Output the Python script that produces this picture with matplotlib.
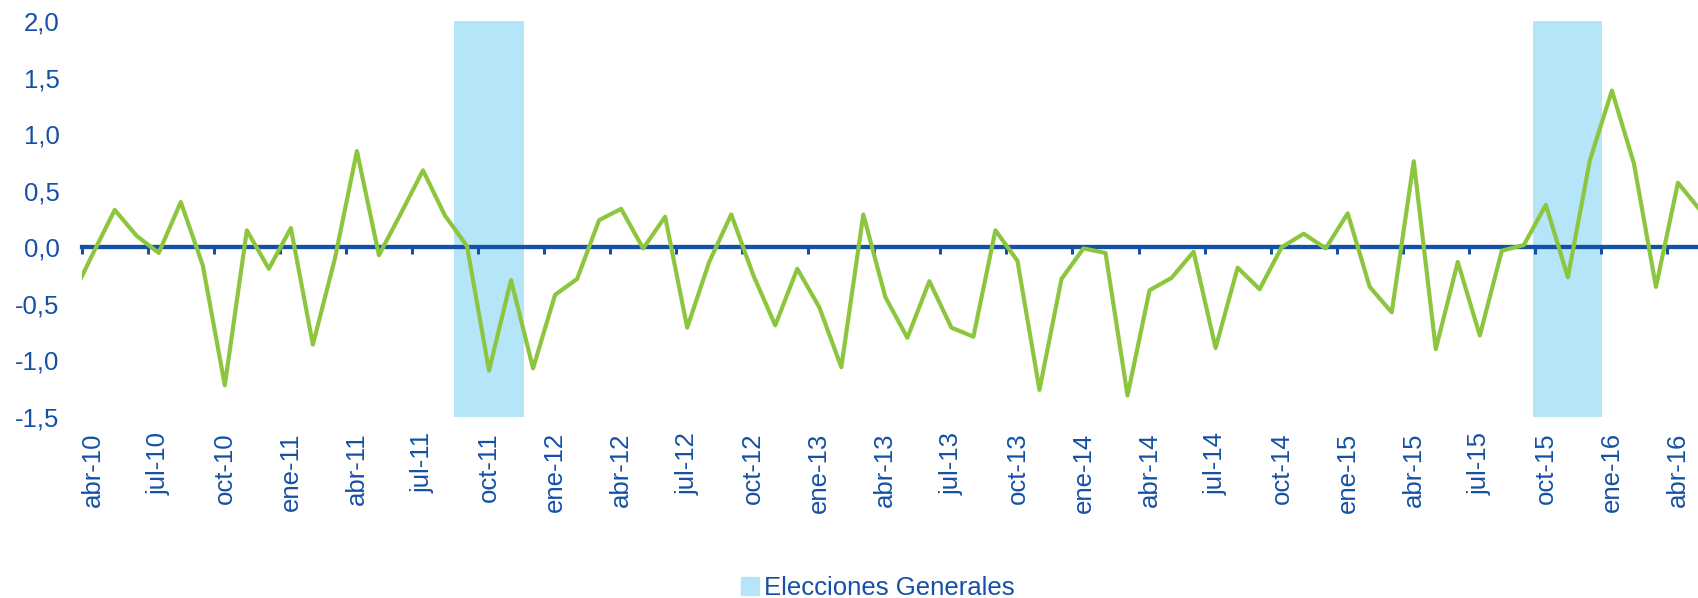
import matplotlib.pyplot as plt
from matplotlib.patches import Patch
import numpy as np

plt.rcParams['font.family'] = ['Liberation Sans', 'DejaVu Sans']

# Meses (mar-10 a may-16); el gráfico original está recortado en los extremos
nombres_mes = ["ene", "feb", "mar", "abr", "may", "jun", "jul", "ago", "sep", "oct", "nov", "dic"]
meses = []
for anio in range(10, 17):
    for m in nombres_mes:
        meses.append(f"{m}-{anio}")
meses = meses[meses.index("mar-10"):meses.index("may-16") + 1]

valores = [-0.46, -0.06, 0.33, 0.10, -0.05, 0.40, -0.16, -1.22, 0.15, -0.19,
           0.17, -0.86, -0.10, 0.85, -0.07, 0.30, 0.68, 0.28, 0.01, -1.09,
           -0.29, -1.07, -0.42, -0.28, 0.24, 0.34, -0.01, 0.27, -0.71, -0.13,
           0.29, -0.245, -0.69, -0.19, -0.53, -1.06, 0.29, -0.44, -0.80, -0.30,
           -0.71, -0.79, 0.15, -0.12, -1.26, -0.28, -0.01, -0.05, -1.31, -0.38,
           -0.27, -0.04, -0.89, -0.18, -0.37, 0.0, 0.12, -0.01, 0.30, -0.35,
           -0.575, 0.76, -0.90, -0.13, -0.78, -0.03, 0.02, 0.375, -0.265, 0.77,
           1.385, 0.74, -0.35, 0.57, 0.33]

etiquetas_x = ["abr-10", "jul-10", "oct-10", "ene-11", "abr-11", "jul-11", "oct-11",
               "ene-12", "abr-12", "jul-12", "oct-12", "ene-13", "abr-13", "jul-13",
               "oct-13", "ene-14", "abr-14", "jul-14", "oct-14", "ene-15", "abr-15",
               "jul-15", "oct-15", "ene-16", "abr-16"]

# periodos electorales (primer y último mes sombreado)
elecciones = [("sep-11", "nov-11"), ("oct-15", "dic-15")]

azul = "#1450A5"
verde = "#8CC63F"
celeste = "#B5E5F8"
fs = 18.5

x = np.arange(len(meses)) - 1  # abr-10 = 0

fig = plt.figure(figsize=(16.98, 5.98), dpi=100)
ax = fig.add_axes([81.7 / 1698, 1 - 417 / 598, 1 - 81.7 / 1698, (417 - 21) / 598])

for ini, fin in elecciones:
    i0 = meses.index(ini) - 1
    i1 = meses.index(fin) - 1
    ax.axvspan(i0 - 0.57, i1 + 0.57, color=celeste, lw=0, zorder=1)

ax.plot(x, valores, color=verde, lw=3.0, zorder=3)

ax.set_xlim(-0.5, 72.91)
ax.set_ylim(-1.5, 2.0)

# eje horizontal en el cero con marcas cada trimestre
for s in ["top", "right", "left"]:
    ax.spines[s].set_visible(False)
ax.spines["bottom"].set_position(("data", 0))
ax.spines["bottom"].set_color(azul)
ax.spines["bottom"].set_linewidth(3.1)
ax.set_xticks(np.arange(-0.5, 73, 3))
ax.tick_params(axis="x", direction="out", length=5, width=2.2, color=azul, labelbottom=False)

yt = np.arange(-1.5, 2.01, 0.5)
ax.set_yticks(yt)
ax.set_yticklabels([f"{v:.1f}".replace(".", ",") for v in yt])
ax.tick_params(axis="y", length=0, pad=16, labelsize=fs, labelcolor=azul)

pos_etiq = [meses.index(e) - 1 for e in etiquetas_x]
sec = ax.secondary_xaxis(0.0)
sec.set_xticks(pos_etiq)
sec.set_xticklabels(etiquetas_x, rotation=90)
sec.tick_params(length=0, pad=11, labelsize=fs, labelcolor=azul)
sec.spines["bottom"].set_visible(False)

fig.legend(handles=[Patch(color=celeste, label="Elecciones Generales")],
           loc="center", bbox_to_anchor=(0.517, 0.017), frameon=False,
           fontsize=fs, labelcolor=azul, handlelength=0.7, handleheight=0.7,
           handletextpad=0.2, borderpad=0)

fig.savefig("out.png", dpi=100)
